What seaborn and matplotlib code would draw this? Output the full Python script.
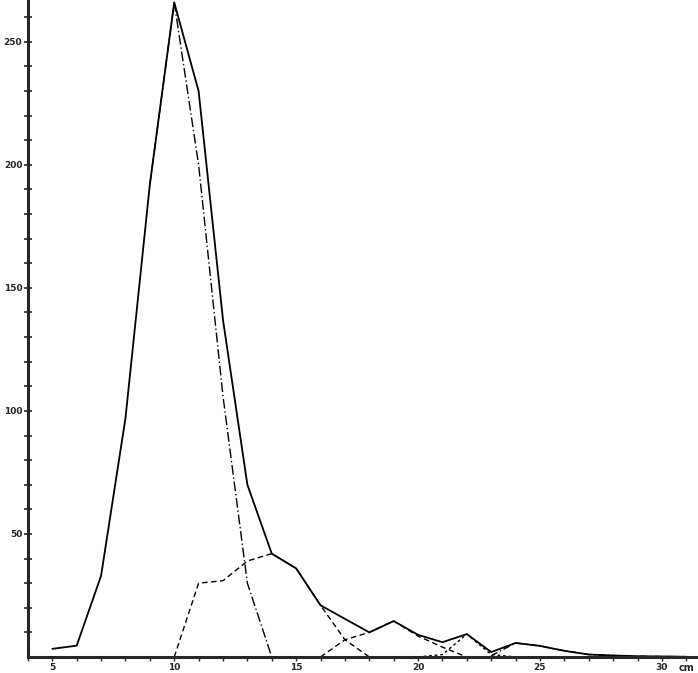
import numpy as np
import pandas as pd
import matplotlib
matplotlib.use("Agg")
import matplotlib.pyplot as plt
import seaborn as sns

# length classes (cm) and counts
total_len = [5, 6, 7, 8, 9, 10, 11, 12, 13, 14, 15, 16, 17, 18, 19, 20, 21, 22, 23, 24, 25, 26, 27, 28, 29, 30, 31]
total_n = [3.3, 4.6, 33, 97, 192, 266, 230, 137, 70, 42, 36, 21, 15.5, 10, 14.6, 9, 6, 9.3, 2, 5.7, 4.5, 2.5, 1, 0.6, 0.3, 0.2, 0.1]

g1_len = [9, 10, 11, 12, 13, 14]
g1_n = [192, 266, 200, 106, 30, 0]

g2_len = [10, 11, 12, 13, 14, 15, 16, 17, 18]
g2_n = [0, 30, 31, 39, 42, 36, 21, 7, 0]

g3_len = [16, 17, 18, 19, 20, 21, 22]
g3_n = [0, 7, 10, 14.6, 8.5, 4, 0]

g4_len = [20, 21, 22, 23, 24]
g4_n = [0, 1, 9.3, 1, 0]

g5_len = [23, 24, 25, 26, 27, 28, 29, 30, 31]
g5_n = [0.5, 5.7, 4.5, 2.5, 1, 0.6, 0.3, 0.2, 0.1]

x_ticks = [5, 10, 15, 20, 25, 30]
y_ticks = [50, 100, 150, 200, 250]

sns.set_style("ticks")
plt.rcParams['font.family'] = ['DejaVu Sans']

fig = plt.figure(figsize=(6.98, 6.73), dpi=100)
ax = fig.add_axes([0.04, 0.0238, 0.96, 0.9762])

# total catch, solid
sns.lineplot(x=total_len, y=total_n, ax=ax, color="black", linewidth=1.3)

# age groups, broken lines
groups = [
    (g1_len, g1_n, (0, (7, 2, 1, 2))),
    (g2_len, g2_n, (0, (4, 2.5))),
    (g3_len, g3_n, (0, (4, 2.5))),
    (g4_len, g4_n, (0, (2, 2))),
    (g5_len, g5_n, (0, (5, 2, 1, 2))),
]
for lx, ly, ls in groups:
    sns.lineplot(x=lx, y=ly, ax=ax, color="black", linewidth=1.0, linestyle=ls)

ax.set_xlim(4.02, 31.48)
ax.set_ylim(0, 267)

ax.spines['top'].set_visible(False)
ax.spines['right'].set_visible(False)
ax.spines['left'].set_linewidth(2.2)
ax.spines['bottom'].set_linewidth(2.2)

ax.set_xticks(x_ticks)
ax.set_xticklabels([str(v) for v in x_ticks], fontsize=6.5, fontweight='bold')
ax.set_xticks(range(4, 32), minor=True)
ax.set_yticks(y_ticks)
ax.set_yticklabels([str(v) for v in y_ticks], fontsize=6.5, fontweight='bold')
ax.set_yticks(range(10, 267, 10), minor=True)

ax.tick_params(axis='y', which='both', direction='inout', length=6, width=1.2, pad=1)
ax.tick_params(axis='x', which='both', direction='out', length=3, width=1.0, pad=1)

ax.text(31.0, -2.5, "cm", fontsize=7, fontweight='bold', ha='center', va='top', clip_on=False)

ax.set_xlabel("")
ax.set_ylabel("")

fig.savefig("out.png", dpi=100)
